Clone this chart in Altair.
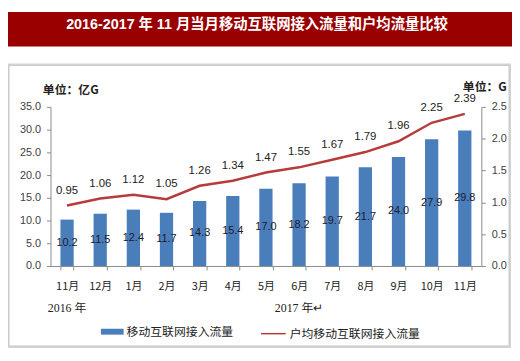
import altair as alt
import pandas as pd

# ---- data ----
keys = ["2016-11", "2016-12", "2017-1", "2017-2", "2017-3", "2017-4", "2017-5",
        "2017-6", "2017-7", "2017-8", "2017-9", "2017-10", "2017-11"]
traffic = [10.2, 11.5, 12.4, 11.7, 14.3, 15.4, 17.0, 18.2, 19.7, 21.7, 24.0, 27.9, 29.8]
per_user = [0.95, 1.06, 1.12, 1.05, 1.26, 1.34, 1.47, 1.55, 1.67, 1.79, 1.96, 2.25, 2.39]
series_names = ["移动互联网接入流量", "户均移动互联网接入流量"]
year_labels = ["2016 年", "2017 年↵"]
year_keys = ["2016-11", "2017-6"]
title_text = "2016-2017 年 11 月当月移动互联网接入流量和户均流量比较"
left_unit = "单位：亿G"
right_unit = "单位：G"
left_ticks = [0, 5, 10, 15, 20, 25, 30, 35]
right_ticks = [0, 0.5, 1.0, 1.5, 2.0, 2.5]

BLUE = "#4A7EBB"
RED = "#B83B3B"
BANNER = "#990000"
FONT = "Liberation Sans, Noto Sans CJK SC"
CJK = "Noto Sans CJK SC"

df = pd.DataFrame({"key": keys, "traffic": traffic, "per_user": per_user})
df["s1"] = series_names[0]
df["s2"] = series_names[1]
df["half"] = df["traffic"] / 2
years_df = pd.DataFrame({"key": year_keys, "label": year_labels})
one = pd.DataFrame({"t": [title_text]})

x_enc = alt.X(
    "key:N", sort=keys,
    scale=alt.Scale(paddingInner=0.6, paddingOuter=0.3),
    axis=alt.Axis(title=None, labelAngle=0, tickBand="extent", zindex=1,
                  labelExpr="isValid(datum.value) ? split(datum.value, '-')[1] + '月' : ''",
                  tickSize=4, labelPadding=11, labelFontSize=11, labelFont=CJK,
                  labelColor="#222222", domainColor="#8a8a8a", tickColor="#8a8a8a"),
)

left_axis = alt.Axis(values=left_ticks, format=".1f", grid=False, tickSize=4, zindex=1,
                     labelPadding=6, labelFontSize=11, labelFont="Liberation Sans",
                     labelOverlap=False,
                     labelColor="#404040", domainColor="#8a8a8a", tickColor="#8a8a8a",
                     title=left_unit, titleAngle=0, titleX=20, titleY=-18,
                     titleAlign="center", titleBaseline="middle", titleFont=CJK,
                     titleFontSize=12, titleFontWeight="bold", titleColor="#222222")
right_axis = alt.Axis(orient="right", values=right_ticks, format=".1f", grid=False,
                      tickSize=4, labelPadding=6, labelFontSize=11, zindex=1,
                      labelOverlap=False,
                      labelFont="Liberation Sans", labelColor="#404040",
                      domainColor="#8a8a8a", tickColor="#8a8a8a",
                      title=right_unit, titleAngle=0, titleX=3, titleY=-21,
                      titleAlign="center", titleBaseline="middle", titleFont=CJK,
                      titleFontSize=12, titleFontWeight="bold", titleColor="#222222")
left_scale = alt.Scale(domain=[0, 35], nice=False)
right_scale = alt.Scale(domain=[0, 2.5], nice=False)

# ---- decorations ----
shadow = alt.Chart(one).mark_rect(fill="white", stroke="#d4d4d4", strokeWidth=4).encode(
    x=alt.value(-42), x2=alt.value(464), y=alt.value(-42), y2=alt.value(242))
panel = alt.Chart(one).mark_rect(fill="white", stroke="#c4c4c4", strokeWidth=1).encode(
    x=alt.value(-42), x2=alt.value(464), y=alt.value(-42), y2=alt.value(242))
banner = alt.Chart(one).mark_rect(fill=BANNER).encode(
    x=alt.value(-43), x2=alt.value(467), y=alt.value(-96), y2=alt.value(-61))
title = alt.Chart(one).mark_text(
    color="white", font=FONT, fontSize=14.5, fontWeight="bold",
    align="center", baseline="middle").encode(
    text="t:N", x=alt.value(209), y=alt.value(-83))

# ---- data marks ----
bars = alt.Chart(df).mark_bar(color=BLUE).encode(
    x=x_enc, y=alt.Y("traffic:Q", scale=left_scale, axis=left_axis),
    color=alt.Color("s1:N", scale=alt.Scale(domain=[series_names[0]], range=[BLUE]),
                    legend=alt.Legend(orient="none", legendX=51, legendY=216, title=None,
                                      padding=0, symbolType="M-1,-0.26H1V0.26H-1Z",
                                      symbolSize=529, symbolStrokeWidth=0,
                                      labelFont=CJK, labelFontSize=12,
                                      labelColor="#222222", labelOffset=3)),
)
bar_text = alt.Chart(df).mark_text(
    font="Liberation Sans", fontSize=11, color="#1a1a2e", baseline="middle").encode(
    x=x_enc, y=alt.Y("half:Q", scale=left_scale, axis=left_axis),
    text=alt.Text("traffic:Q", format=".1f"))

line = alt.Chart(df).mark_line(strokeWidth=2.5).encode(
    x=x_enc, y=alt.Y("per_user:Q", scale=right_scale, axis=right_axis),
    stroke=alt.Stroke("s2:N", scale=alt.Scale(domain=[series_names[1]], range=[RED]),
                      legend=alt.Legend(orient="none", legendX=212, legendY=216, title=None,
                                        padding=0, symbolType="stroke", symbolSize=625,
                                        symbolStrokeWidth=1.5,
                                        labelFont=CJK, labelFontSize=12,
                                        labelColor="#222222", labelOffset=3)),
)
line_text = alt.Chart(df).mark_text(
    font="Liberation Sans", fontSize=11.5, color="#222222", dy=-15, baseline="middle").encode(
    x=x_enc, y=alt.Y("per_user:Q", scale=right_scale, axis=right_axis),
    text=alt.Text("per_user:Q", format=".2f"))

years = alt.Chart(years_df).mark_text(
    font="Liberation Serif, Noto Sans CJK SC", fontSize=12, color="#222222",
    baseline="middle").encode(
    x=x_enc, y=alt.value(204), text="label:N")

chart = alt.layer(
    shadow, panel, banner, title,
    alt.layer(bars, bar_text),
    alt.layer(line, line_text),
    years,
).resolve_scale(y="independent").properties(
    width=436, height=161,
    padding={"left": 43, "top": 98, "right": 31, "bottom": 86},
    autosize=alt.AutoSizeParams(type="none"),
).configure_view(stroke=None)

chart.save("out.html", embed_options={"renderer": "svg", "actions": False})
